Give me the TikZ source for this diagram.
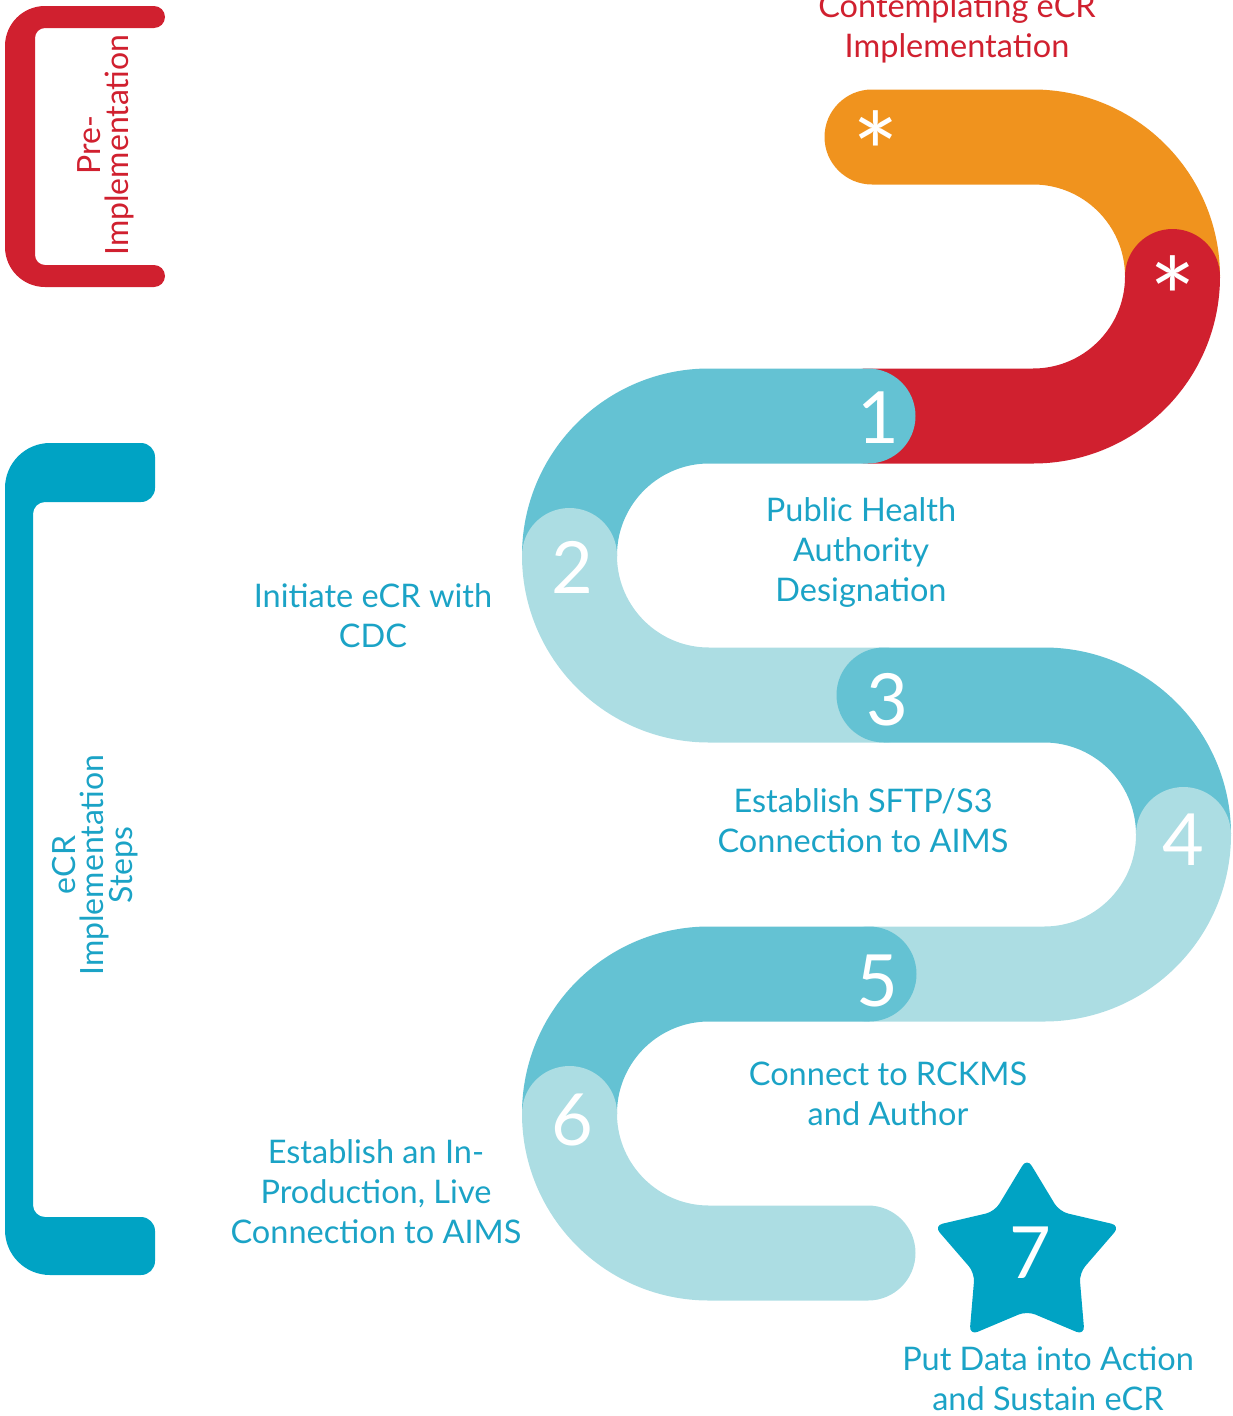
\documentclass[tikz,border=0pt]{standalone}
\usepackage{fontspec}
\setmainfont{Lato}
\definecolor{ecrorange}{HTML}{F0931E}
\definecolor{ecrred}{HTML}{D0202F}
\definecolor{ecrdark}{HTML}{64C2D3}
\definecolor{ecrlight}{HTML}{ACDDE3}
\definecolor{ecrtext}{HTML}{1BA3C6}
\definecolor{ecrblue}{HTML}{00A3C4}
\tikzstyle{band}=[line width=95, line cap=round]
\tikzstyle{lbl}=[text=ecrtext, align=center, font=\fontsize{32.5}{40}\selectfont, inner sep=0, anchor=base]
\tikzstyle{num}=[text=white, font=\fontsize{72}{72}\selectfont, inner sep=0, anchor=base]
\tikzstyle{ast}=[text=white, font=\fontsize{110}{110}\selectfont, inner sep=0, anchor=north]
\tikzstyle{side}=[align=center, font=\fontsize{32}{28}\selectfont, rotate=90, inner sep=0]

\begin{document}
\begin{tikzpicture}[x=1pt, y=-1pt]
  \useasboundingbox (0,0) rectangle (1233,1416);

  % brackets
  \fill[ecrred] (154,6) arc[start angle=-90, end angle=90, radius=11] -- (45,28)
    arc[start angle=-90, end angle=-180, radius=10] -- (35,255)
    arc[start angle=180, end angle=90, radius=10] -- (154,265)
    arc[start angle=-90, end angle=90, radius=11] -- (45,287)
    arc[start angle=90, end angle=180, radius=40] -- (5,46)
    arc[start angle=180, end angle=270, radius=40] -- cycle;
  \fill[ecrblue] (141,443) arc[start angle=-90, end angle=0, radius=14] -- (155,488)
    arc[start angle=0, end angle=90, radius=14] -- (45,502)
    arc[start angle=-90, end angle=-180, radius=12] -- (33,1205)
    arc[start angle=180, end angle=90, radius=12] -- (141,1217)
    arc[start angle=-90, end angle=0, radius=14] -- (155,1261)
    arc[start angle=0, end angle=90, radius=14] -- (50,1275)
    arc[start angle=90, end angle=180, radius=45] -- (5,488)
    arc[start angle=180, end angle=270, radius=45] -- cycle;
  \node [side, text=ecrred] (pre) at (106,145) {Pre-\\Implementation};
  \node [side, text=ecrtext] (steps) at (95,865) {eCR\\Implementation\\Steps};

  % joints of the path
  \coordinate (c0) at (872,137);
  \coordinate (c1) at (1172.5,276.5);
  \coordinate (c2) at (868,416);
  \coordinate (c3) at (569.5,555.5);
  \coordinate (c4) at (884,695);
  \coordinate (c5) at (1183.5,834.5);
  \coordinate (c6) at (869,974);
  \coordinate (c7) at (569.5,1113.5);
  \coordinate (c8) at (868,1253);

  \draw [band, ecrorange] (c0) -- (1033,137) arc[start angle=-90, end angle=0, radius=139.5];
  \draw [band, ecrred] (c1) arc[start angle=0, end angle=90, radius=139.5] -- (c2);
  \draw [band, ecrdark] (c2) -- (709,416) arc[start angle=-90, end angle=-180, radius=139.5];
  \draw [band, ecrlight] (c3) arc[start angle=180, end angle=90, radius=139.5] -- (c4);
  \draw [band, ecrdark] (c4) -- (1044,695) arc[start angle=-90, end angle=0, radius=139.5];
  \draw [band, ecrlight] (c5) arc[start angle=0, end angle=90, radius=139.5] -- (c6);
  \draw [band, ecrdark] (c6) -- (709,974) arc[start angle=-90, end angle=-180, radius=139.5];
  \draw [band, ecrlight] (c7) arc[start angle=180, end angle=90, radius=139.5] -- (c8);

  % final star
  \fill [ecrblue, rounded corners=9, shift={(1027,1256)}] (-90:98) -- (-54:55)
    \foreach \k in {1,...,4} { -- (-90+72*\k:98) -- (-54+72*\k:55) } -- cycle;

  \node [ast] (a1) at (876,110) {*};
  \node [ast] (a2) at (1173,255) {*};
  \node [num] (n1) at (878,443) {1};
  \node [num] (n2) at (572,593) {2};
  \node [num] (n3) at (887,725) {3};
  \node [num] (n4) at (1183,865) {4};
  \node [num] (n5) at (877,1006) {5};
  \node [num] (n6) at (572,1145) {6};
  \node [num] (n7) at (1030,1278) {7};

  \node [lbl, text=ecrred] (contemp) at (957,57) {Contemplating eCR\\Implementation};
  \node [lbl] (pha) at (861,601) {Public Health\\Authority\\Designation};
  \node [lbl] (init) at (373,647) {Initiate eCR with\\CDC};
  \node [lbl] (sftp) at (863,852) {Establish SFTP/S3\\Connection to AIMS};
  \node [lbl] (rckms) at (888,1125) {Connect to RCKMS\\and Author};
  \node [lbl] (prod) at (376,1243) {Establish an In-\\Production, Live\\Connection to AIMS};
  \node [lbl] (action) at (1048,1410) {Put Data into Action\\and Sustain eCR};
\end{tikzpicture}
\end{document}
